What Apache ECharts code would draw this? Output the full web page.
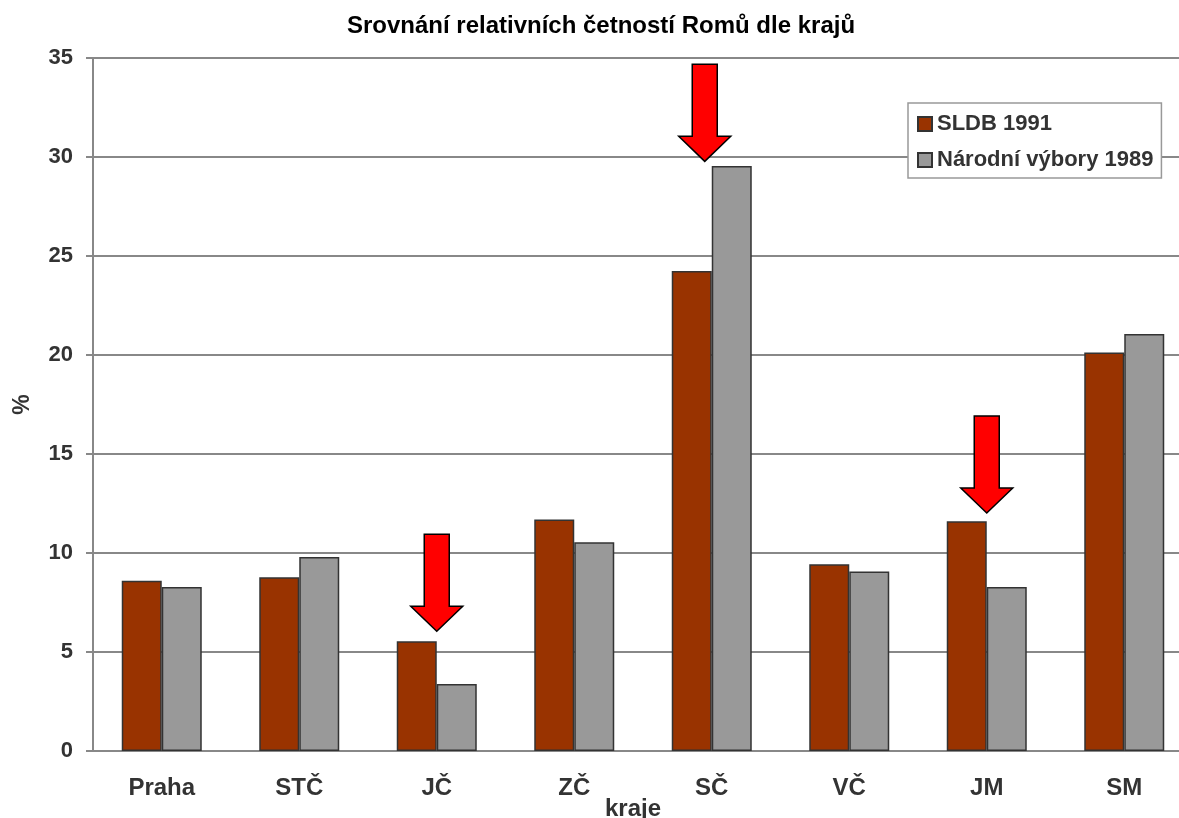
<!DOCTYPE html>
<html>
<head>
<meta charset="utf-8">
<title>Srovnání relativních četností Romů dle krajů</title>
<script src="https://cdn.jsdelivr.net/npm/echarts@6/dist/echarts.min.js"></script>
<style>
  html, body { margin: 0; padding: 0; background: #fff; }
  #chart { width: 1179px; height: 818px; }
</style>
</head>
<body>
<div id="chart"></div>
<script>
    // data
    var regions = ['Praha', 'STČ', 'JČ', 'ZČ', 'SČ', 'VČ', 'JM', 'SM'];
    var sldb1991 = [8.6, 8.77, 5.54, 11.69, 24.24, 9.43, 11.6, 20.12];
    var narodniVybory1989 = [8.28, 9.8, 3.38, 10.54, 29.55, 9.06, 8.28, 21.06];
    var yTicks = [0, 5, 10, 15, 20, 25, 30, 35];
    // red arrows: region and the value where the tip points
    var arrowRegions = ['JČ', 'SČ', 'JM'];
    var arrowTips = [6.05, 29.78, 12.02];

    var font = '"Liberation Sans", Arial, sans-serif';

    var myChart = echarts.init(document.getElementById('chart'));
    myChart.setOption({
        animation: false,
        backgroundColor: '#fff',
        title: {
            text: 'Srovnání relativních četností Romů dle krajů',
            left: 601,
            top: 14,
            padding: 0,
            textAlign: 'center',
            textStyle: {
                fontFamily: font,
                fontWeight: 'bold',
                fontSize: 24,
                color: '#000'
            }
        },
        legend: {
            orient: 'vertical',
            left: 908,
            top: 103,
            padding: [10, 8, 7, 9],
            itemGap: 14,
            itemWidth: 14,
            itemHeight: 14,
            icon: 'rect',
            backgroundColor: '#fff',
            borderColor: '#999',
            borderWidth: 1.5,
            textStyle: {
                fontFamily: font,
                fontWeight: 'bold',
                fontSize: 22,
                lineHeight: 22,
                color: '#333'
            },
            data: ['SLDB 1991', 'Národní výbory 1989']
        },
        grid: {
            left: 93,
            top: 58,
            width: 1100,
            bottom: 67,
            outerBoundsMode: 'none'
        },
        xAxis: {
            type: 'category',
            data: regions,
            name: 'kraje',
            nameLocation: 'middle',
            nameGap: 46,
            nameMoveOverlap: false,
            nameTextStyle: {
                fontFamily: font,
                fontWeight: 'bold',
                fontSize: 24,
                color: '#333',
                padding: [0, 20, 0, 0]
            },
            axisLine: {lineStyle: {color: '#888', width: 2}},
            axisTick: {length: 7, lineStyle: {color: '#888', width: 2}},
            axisLabel: {
                margin: 25,
                fontFamily: font,
                fontWeight: 'bold',
                fontSize: 24,
                color: '#333'
            }
        },
        yAxis: {
            type: 'value',
            min: yTicks[0],
            max: yTicks[yTicks.length - 1],
            interval: 5,
            name: '%',
            nameLocation: 'middle',
            nameRotate: 90,
            nameGap: 59,
            nameMoveOverlap: false,
            nameTextStyle: {
                fontFamily: font,
                fontWeight: 'bold',
                fontSize: 23,
                color: '#333'
            },
            axisLine: {show: true, lineStyle: {color: '#888', width: 2}},
            axisTick: {show: true, length: 7, lineStyle: {color: '#888', width: 2}},
            splitLine: {lineStyle: {color: '#888', width: 2}},
            axisLabel: {
                margin: 20,
                fontFamily: font,
                fontWeight: 'bold',
                fontSize: 22,
                color: '#333'
            }
        },
        series: [
            {
                name: 'SLDB 1991',
                type: 'bar',
                data: sldb1991,
                barWidth: 40,
                barGap: '0%',
                itemStyle: {color: '#993300', borderColor: '#333', borderWidth: 1.5}
            },
            {
                name: 'Národní výbory 1989',
                type: 'bar',
                data: narodniVybory1989,
                barWidth: 40,
                barGap: '0%',
                itemStyle: {color: '#999999', borderColor: '#333', borderWidth: 1.5}
            }
        ]
    });

    // arrows pointing down at the chosen regions
    function drawArrows() {
        var shift = {'SČ': -7};
        var shapes = [];
        for (var i = 0; i < arrowRegions.length; i++) {
            var p = myChart.convertToPixel({gridIndex: 0}, [arrowRegions[i], arrowTips[i]]);
            var x = p[0] + (shift[arrowRegions[i]] || 0);
            var y = p[1];
            shapes.push({
                type: 'polygon',
                z: 100,
                shape: {
                    points: [
                        [x, y], [x - 26, y - 25], [x - 12.5, y - 25], [x - 12.5, y - 97],
                        [x + 12.5, y - 97], [x + 12.5, y - 25], [x + 26, y - 25]
                    ]
                },
                style: {fill: '#ff0000', stroke: '#000', lineWidth: 1.5}
            });
        }
        myChart.setOption({graphic: shapes});
    }
    drawArrows();
</script>
</body>
</html>
